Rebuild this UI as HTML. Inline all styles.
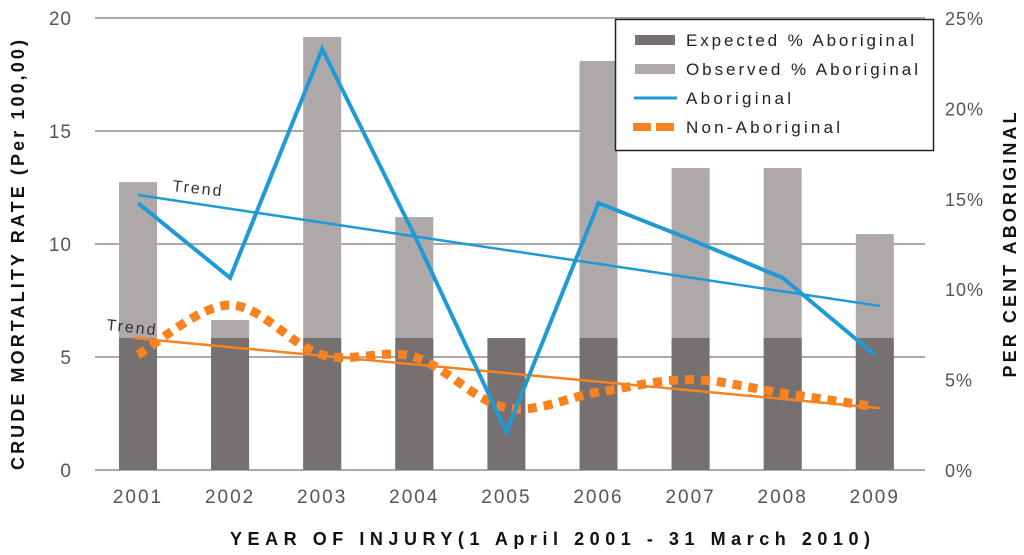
<!DOCTYPE html>
<html><head><meta charset="utf-8"><style>
body{margin:0;background:#fff}
svg{display:block;font-family:"Liberation Sans",sans-serif}
</style></head><body>
<svg id="c" width="1024" height="555"></svg>
<script>
const years=["2001","2002","2003","2004","2005","2006","2007","2008","2009"];
const expected=[5.84,5.84,5.84,5.84,5.84,5.84,5.84,5.84,5.84];
const observed=[12.74,6.64,19.16,11.19,0,18.1,13.36,13.36,10.44];
const aboriginal=[11.81,8.5,18.63,10.4,1.68,11.81,10.2,8.5,5.1];
const nonAboriginal=[5.1,7.3,5.1,5.0,2.75,3.45,4.0,3.4,2.8];
const trendAb=[12.17,7.26];
const trendNon=[5.84,2.74];
const leftTicks=[0,5,10,15,20];
const rightTicks=["0%","5%","10%","15%","20%","25%"];
const NS="http://www.w3.org/2000/svg",svg=document.getElementById('c');
function el(t,a,p){const e=document.createElementNS(NS,t);for(const k in a)e.setAttribute(k,a[k]);(p||svg).appendChild(e);return e;}
const y0=470,yTop=18,x0=95,x1=925;
const y=v=>y0-(v/20)*(y0-yTop);
const x=i=>138+i*92.1;
leftTicks.forEach(t=>{const g=el('line',{x1:x0,x2:x1,y1:y(t),y2:y(t),stroke:'#b0a8a8','stroke-width':2});

const tx=el('text',{x:72,y:y(t)+7,'text-anchor':'end','font-size':19,fill:'#555','letter-spacing':1});tx.textContent=t;
});
rightTicks.forEach((t,i)=>{const tx=el('text',{x:945,y:y(i*4)+7,'font-size':18,fill:'#555','letter-spacing':1});tx.textContent=t;
});
years.forEach((yr,i)=>{
if(observed[i]>0){const b=el('rect',{x:x(i)-19,y:y(observed[i]),width:38,height:y0-y(observed[i]),fill:'#aea8a8'});
}
const e=el('rect',{x:x(i)-19,y:y(expected[i]),width:38,height:y0-y(expected[i]),fill:'#777070'});

const t=el('text',{x:x(i),y:503,'text-anchor':'middle','font-size':19,fill:'#555','letter-spacing':2});t.textContent=yr;
});
const ta=el('line',{x1:x(0),y1:y(trendAb[0]),x2:x(8)+5,y2:y(trendAb[1]),stroke:'#1e9bd7','stroke-width':2.5});

const tn=el('line',{x1:x(0)-5,y1:y(trendNon[0]),x2:x(8)+5,y2:y(trendNon[1]),stroke:'#f7821f','stroke-width':2.5});

const pts=nonAboriginal.map((v,i)=>[x(i),y(v)]);
let d='M'+pts[0][0]+','+pts[0][1];
for(let i=0;i<pts.length-1;i++){const p0=pts[Math.max(0,i-1)],p1=pts[i],p2=pts[i+1],p3=pts[Math.min(pts.length-1,i+2)];
d+=` C${p1[0]+(p2[0]-p0[0])/6},${p1[1]+(p2[1]-p0[1])/6} ${p2[0]-(p3[0]-p1[0])/6},${p2[1]-(p3[1]-p1[1])/6} ${p2[0]},${p2[1]}`;}
const na=el('path',{d:d,fill:'none',stroke:'#f7821f','stroke-width':9,'stroke-dasharray':'9,7'});

const ab=el('polyline',{points:aboriginal.map((v,i)=>x(i)+','+y(v)).join(' '),fill:'none',stroke:'#1e9bd7','stroke-width':4,'stroke-linejoin':'miter'});

</script>
<div style="position:absolute;left:0;top:0;width:1024px;height:555px;pointer-events:none">
<svg width="1024" height="555" style="font-family:'Liberation Sans',sans-serif">
<text x="172" y="191" font-size="16" fill="#333" letter-spacing="2" transform="rotate(6 172 191)">Trend</text>
<text x="106" y="330" font-size="16" fill="#333" letter-spacing="2" transform="rotate(6 106 330)">Trend</text>
<g>
<rect x="615.5" y="19.5" width="318" height="131" fill="#fff" stroke="#222" stroke-width="1.5"/>
<rect x="635" y="35" width="40" height="10" fill="#777070"/>
<text x="686" y="46" font-size="17" fill="#222" textLength="228">Expected % Aboriginal</text>
<rect x="635" y="64" width="40" height="10" fill="#aea8a8"/>
<text x="686" y="75" font-size="17" fill="#222" textLength="232">Observed % Aboriginal</text>
<line x1="634" x2="677" y1="98" y2="98" stroke="#1e9bd7" stroke-width="3"/>
<text x="686" y="104" font-size="17" fill="#222" textLength="105">Aboriginal</text>
<line x1="633" x2="677" y1="127" y2="127" stroke="#f7821f" stroke-width="8" stroke-dasharray="18,5"/>
<text x="686" y="133" font-size="17" fill="#222" textLength="154">Non-Aboriginal</text>
</g>
<text transform="translate(24 255) rotate(-90)" text-anchor="middle" font-size="18" font-weight="bold" fill="#111" textLength="430" lengthAdjust="spacing">CRUDE MORTALITY RATE (Per 100,00)</text>
<text transform="translate(1016 245) rotate(-90)" text-anchor="middle" font-size="18" font-weight="bold" fill="#111" textLength="265" lengthAdjust="spacing">PER CENT ABORIGINAL</text>
<text x="550" y="545" text-anchor="middle" font-size="18" font-weight="bold" fill="#111" textLength="640" lengthAdjust="spacing">YEAR OF INJURY(1 April 2001 - 31 March 2010)</text>
</svg></div>
</body></html>
